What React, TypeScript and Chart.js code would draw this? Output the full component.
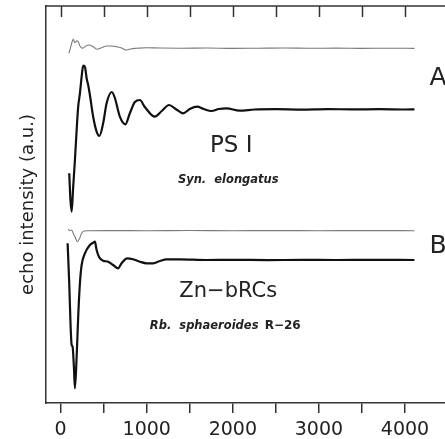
import React, { useEffect, useRef } from "react";
import { Chart, registerables } from "chart.js";

Chart.register(...registerables);

// ---- data (x: time-like units, y: echo intensity a.u.) ----
const xTickValues = [0, 500, 1000, 1500, 2000, 2500, 3000, 3500, 4000];
const xTickLabels = ["0", "1000", "2000", "3000", "4000"];

const greyA_x = [96, 108, 128, 146, 166, 186, 204, 224, 255, 294, 332, 378, 425, 476, 534, 592, 650, 708, 766, 824, 882, 998, 1150, 1400, 1700, 2000, 2300, 2600, 2900, 3200, 3500, 3800, 4110];
const greyA_y = [349.7, 353, 359.7, 363.7, 360.3, 362.3, 361.3, 357, 354.7, 357, 358, 356.3, 353.7, 355.3, 357, 357, 356.3, 355, 353, 354.3, 354.7, 355.3, 355, 354.8, 355, 354.6, 354.8, 355, 354.7, 354.9, 354.6, 354.8, 354.6];

const blackA_x = [100, 114, 128, 146, 166, 186, 204, 224, 244, 262, 282, 302, 320, 340, 378, 418, 450, 494, 534, 595, 630, 688, 752, 804, 862, 920, 978, 1094, 1175, 1260, 1337, 1422, 1500, 1585, 1662, 1752, 1836, 1926, 2080, 2254, 2500, 2800, 3100, 3400, 3700, 4000, 4110];
const blackA_y = [229.7, 203, 191.3, 216.3, 243, 273, 296.3, 309.7, 326.3, 337.3, 336.3, 324.7, 318, 308, 286.3, 271.3, 267, 279.7, 299.7, 311, 305, 286.3, 278.7, 289.7, 301, 303, 296, 286.3, 292, 298, 294, 289.7, 294, 296.3, 294, 292, 294, 294.7, 292.3, 293.5, 293.8, 293.4, 293.9, 293.6, 293.8, 293.5, 293.7];

const greyB_x = [88, 108, 128, 146, 166, 193, 216, 244, 270, 320, 600, 1000, 1500, 2000, 2500, 3000, 3500, 4110];
const greyB_y = [173.7, 172.3, 173, 169.7, 166.3, 161.3, 163.7, 169.7, 172, 172.3, 172.4, 172.3, 172.5, 172.3, 172.4, 172.3, 172.4, 172.3];

const blackB_x = [81, 100, 116, 128, 139, 154, 166, 186, 204, 224, 244, 282, 340, 378, 398, 418, 448, 494, 552, 610, 668, 708, 773, 842, 920, 998, 1074, 1152, 1230, 1384, 1694, 2000, 2400, 2800, 3200, 3600, 4110];
const blackB_y = [159.7, 119.7, 76.3, 58, 56.3, 36.3, 14.7, 46.3, 86.3, 119.7, 138, 149.7, 158, 160.3, 161.3, 153, 145.7, 142.3, 141.3, 138, 134.7, 139.7, 144.7, 143.7, 141.3, 139.7, 139.7, 142, 143.7, 143.7, 143, 143.2, 142.9, 143.1, 143, 143.2, 143];

// ---- annotation layout (data coordinates) ----
const FONT = "'DejaVu Sans', 'Noto Sans', sans-serif";
const notes = [
  { text: "A", x: 4284, y: 324.7, font: `25px ${FONT}`, align: "left" },
  { text: "B", x: 4284, y: 157, font: `25px ${FONT}`, align: "left" },
  { text: "PS I", x: 1981, y: 257, font: `23px ${FONT}`, align: "center" },
  { text: "Syn.  elongatus", x: 1947, y: 223, font: `italic bold 11.5px ${FONT}`, align: "center" },
  { text: "Zn\u2212bRCs", x: 1947, y: 111, font: `21px ${FONT}`, align: "center" },
  { text: "Rb.  sphaeroides", x: 1036, y: 77, font: `italic bold 11.5px ${FONT}`, align: "left" },
  { text: "R\u221226", x: 2370, y: 77, font: `bold 12px ${FONT}`, align: "left" },
];

const zip = (xs: number[], ys: number[]) => xs.map((x, i) => ({ x, y: ys[i] }));

const framePlugin = {
  id: "frame",
  afterDraw(chart: any) {
    const { ctx, chartArea, scales } = chart;
    const xs = scales.x;
    const ys = scales.y;
    ctx.save();
    ctx.strokeStyle = "#333";
    ctx.lineWidth = 1.5;
    ctx.beginPath();
    ctx.moveTo(chartArea.left, chartArea.top);
    ctx.lineTo(chartArea.right + 2, chartArea.top);
    ctx.stroke();
    // inner ticks on top edge
    xs.ticks.forEach((t: any) => {
      const px = Math.round(xs.getPixelForValue(t.value)) + 0.5;
      ctx.beginPath();
      ctx.moveTo(px, chartArea.top);
      ctx.lineTo(px, chartArea.top + 11);
      ctx.stroke();
    });
    // annotations
    ctx.fillStyle = "#222";
    ctx.textBaseline = "middle";
    notes.forEach((n) => {
      ctx.font = n.font;
      ctx.textAlign = n.align as CanvasTextAlign;
      ctx.fillText(n.text, xs.getPixelForValue(n.x), ys.getPixelForValue(n.y));
    });
    ctx.restore();
  },
};

export default function App() {
  const ref = useRef<HTMLCanvasElement | null>(null);
  useEffect(() => {
    document.body.style.margin = "0";
    document.body.style.overflow = "hidden";
    if (!ref.current) return;
    const grey = { borderColor: "#7a7a7a", borderWidth: 1.1 };
    const black = { borderColor: "#111", borderWidth: 2.2 };
    const chart = new Chart(ref.current, {
      type: "line",
      data: {
        datasets: [
          { data: zip(greyA_x, greyA_y), ...grey },
          { data: zip(blackA_x, blackA_y), ...black },
          { data: zip(greyB_x, greyB_y), ...grey },
          { data: zip(blackB_x, blackB_y), ...black },
        ].map((d) => ({ ...d, pointRadius: 0, fill: false, cubicInterpolationMode: "monotone" as const })),
      },
      options: {
        animation: false,
        responsive: false,
        layout: { padding: { top: 6, left: 0, right: 0, bottom: 0 } },
        plugins: { legend: { display: false }, tooltip: { enabled: false } },
        scales: {
          x: {
            type: "linear",
            min: -170,
            max: 4465,
            afterBuildTicks: (s: any) => {
              s.ticks = xTickValues.map((v) => ({ value: v }));
            },
            afterFit: (s: any) => { s.height = 36; },
            border: { display: true, color: "#333", width: 1.5 },
            grid: { display: true, drawOnChartArea: false, drawTicks: true, tickLength: 10, color: "#333", lineWidth: 1.5 },
            ticks: {
              autoSkip: false,
              maxRotation: 0,
              padding: 6,
              color: "#222",
              font: { family: FONT, size: 19 },
              callback: (v: any) => {
                const s = String(v);
                return xTickLabels.includes(s) ? s : "";
              },
            },
          },
          y: {
            type: "linear",
            min: 0,
            max: 397,
            afterFit: (s: any) => { s.width = 46; },
            border: { display: true, color: "#333", width: 1.5 },
            grid: { display: false, drawTicks: false },
            ticks: { display: false },
            title: {
              display: true,
              text: "echo intensity (a.u.)",
              color: "#222",
              font: { family: FONT, size: 18 },
              padding: { top: 18, bottom: 0 },
            },
          },
        },
      },
      plugins: [framePlugin],
    } as any);
    return () => chart.destroy();
  }, []);
  return <canvas ref={ref} width={445} height={439} style={{ display: "block" }} />;
}
